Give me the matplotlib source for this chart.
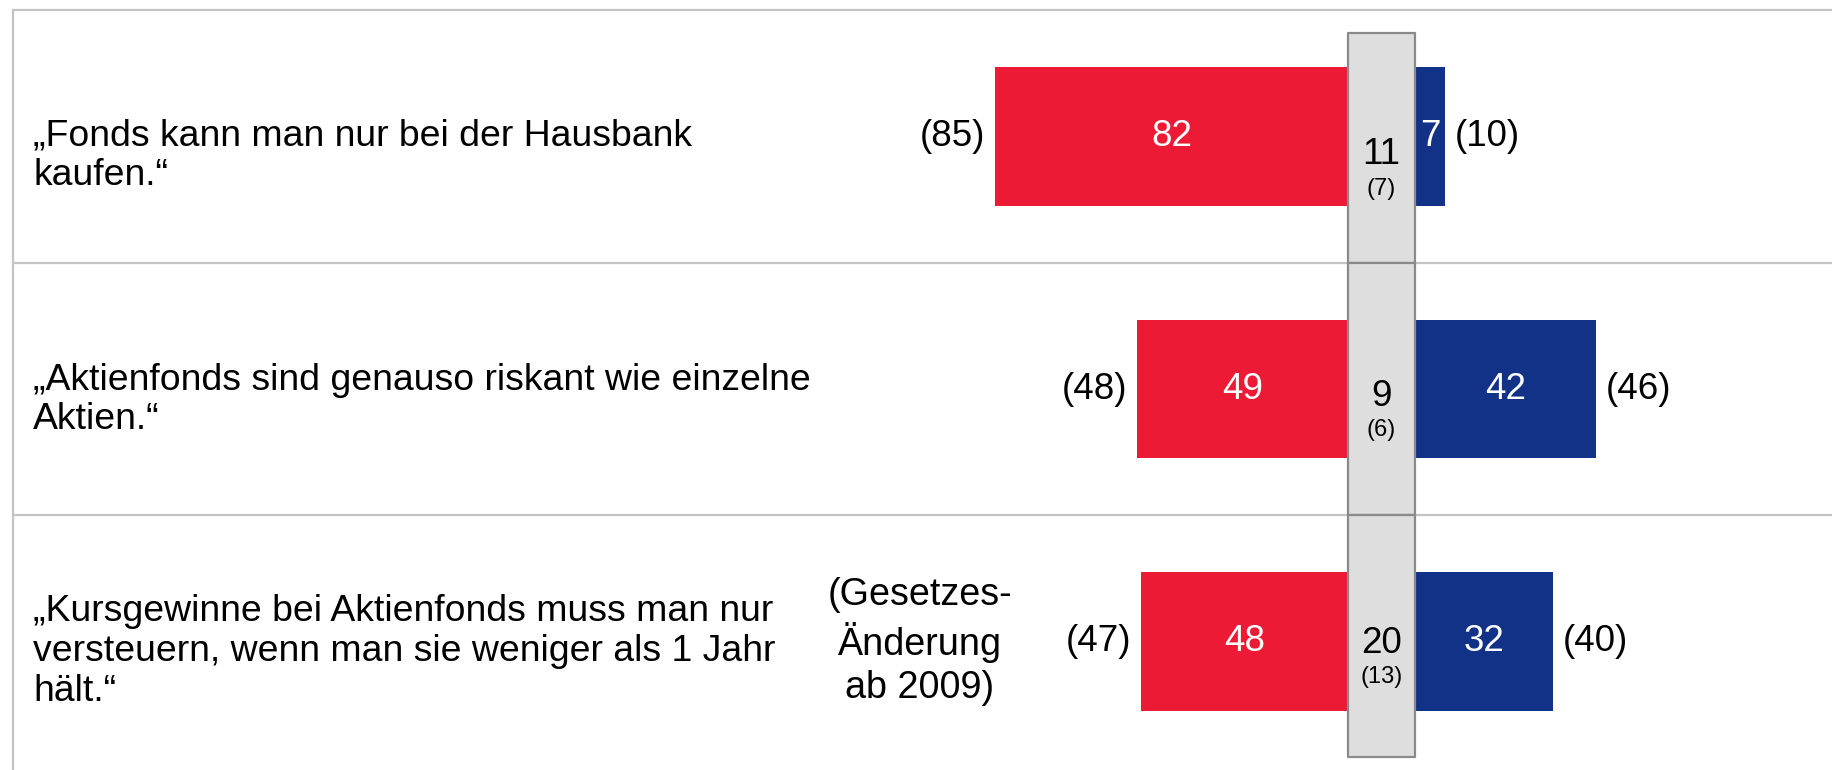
import matplotlib
matplotlib.use('Agg')
import matplotlib.pyplot as plt
from matplotlib.patches import Rectangle
import matplotlib.transforms as mtransforms

plt.rcParams['font.family'] = ['Liberation Sans', 'DejaVu Sans']

# Statements (rows, top to bottom)
statements = [
    "\u201eFonds kann man nur bei der Hausbank\nkaufen.\u201c",
    "\u201eAktienfonds sind genauso riskant wie einzelne\nAktien.\u201c",
    "\u201eKursgewinne bei Aktienfonds muss man nur\nversteuern, wenn man sie weniger als 1 Jahr\nh\u00e4lt.\u201c",
]
red_values = [82, 49, 48]
red_prev = [85, 48, 47]
blue_values = [7, 42, 32]
blue_prev = [10, 46, 40]
mid_values = [11, 9, 20]
mid_prev = [7, 6, 13]
note_row = 2
note_text = "(Gesetzes-\n\u00c4nderung\nab 2009)"

RED = '#ED1A35'
BLUE = '#123287'
GRID = '#c4c4c4'

W, H = 1832, 770
fig = plt.figure(figsize=(W / 100, H / 100), dpi=100)
ax = fig.add_axes([0, 0, 1, 1])
ax.set_axis_off()

# px per percent unit and centre column geometry
ppu = 4.305
cx = 1381.5
half = 33.5 / ppu
ax.set_xlim(-cx / ppu, (W - cx) / ppu)
row_h = 252.5
y0 = 136.5
ax.set_ylim((H - y0) / row_h, -y0 / row_h)

rows = list(range(len(statements)))
bar_h = 0.55

ax.barh(rows, red_values, left=[-half - v for v in red_values], height=bar_h,
        color=RED, zorder=2)
ax.barh(rows, blue_values, left=half, height=bar_h, color=BLUE, zorder=2)

# frame lines
blend = mtransforms.blended_transform_factory(ax.transAxes, ax.transData)
x_left = 13 / W
for yl in [-0.5, 0.5, 1.5]:
    ax.plot([x_left, 1], [yl, yl], color=GRID, lw=1.6, transform=blend, zorder=1,
            solid_capstyle='butt')
ax.plot([x_left, x_left], [-0.5, 3], color=GRID, lw=1.6, transform=blend, zorder=1)

# centre grey boxes
gray_top = -0.41
gray_bottom = 2.457
bounds = [gray_top, 0.5, 1.5, gray_bottom]
for i in rows:
    ax.add_patch(Rectangle((-half, bounds[i]), 2 * half, bounds[i + 1] - bounds[i],
                           facecolor='#dedede', edgecolor='#8a8a8a', lw=1.6,
                           joinstyle='round', zorder=3))

fs = 26.5
off = lambda px: px * 72 / 100
label_dy = [19, 11, 10]  # px shift of the statement text below row centre
for i in rows:
    ax.annotate(statements[i], (x_left + 20 / W, i), xycoords=blend,
                xytext=(0, -off(label_dy[i])), textcoords='offset points',
                ha='left', va='center', fontsize=26.9, linespacing=1.17, color='black')
    r, b = red_values[i], blue_values[i]
    ax.text(-half - r / 2, i, str(r), ha='center', va='center', fontsize=fs,
            color='white', zorder=4)
    ax.text(half + b / 2, i, str(b), ha='center', va='center', fontsize=fs,
            color='white', zorder=4)
    ax.annotate(f"({red_prev[i]})", (-half - r, i), xytext=(-off(10), 0),
                textcoords='offset points', ha='right', va='center', fontsize=fs)
    ax.annotate(f"({blue_prev[i]})", (half + b, i), xytext=(off(10), 0),
                textcoords='offset points', ha='left', va='center', fontsize=fs)
    yc = (bounds[i] + bounds[i + 1]) / 2
    ax.annotate(str(mid_values[i]), (0, yc), xytext=(0, -off(7)),
                textcoords='offset points', ha='center', va='center', fontsize=fs, zorder=5)
    ax.annotate(f"({mid_prev[i]})", (0, yc), xytext=(0, -off(41)),
                textcoords='offset points', ha='center', va='center', fontsize=17, zorder=5)

ax.text(920 / W, note_row, note_text, transform=blend, ha='center', va='center',
        fontsize=27.2, linespacing=1.25)

fig.savefig('out.png', dpi=100)
